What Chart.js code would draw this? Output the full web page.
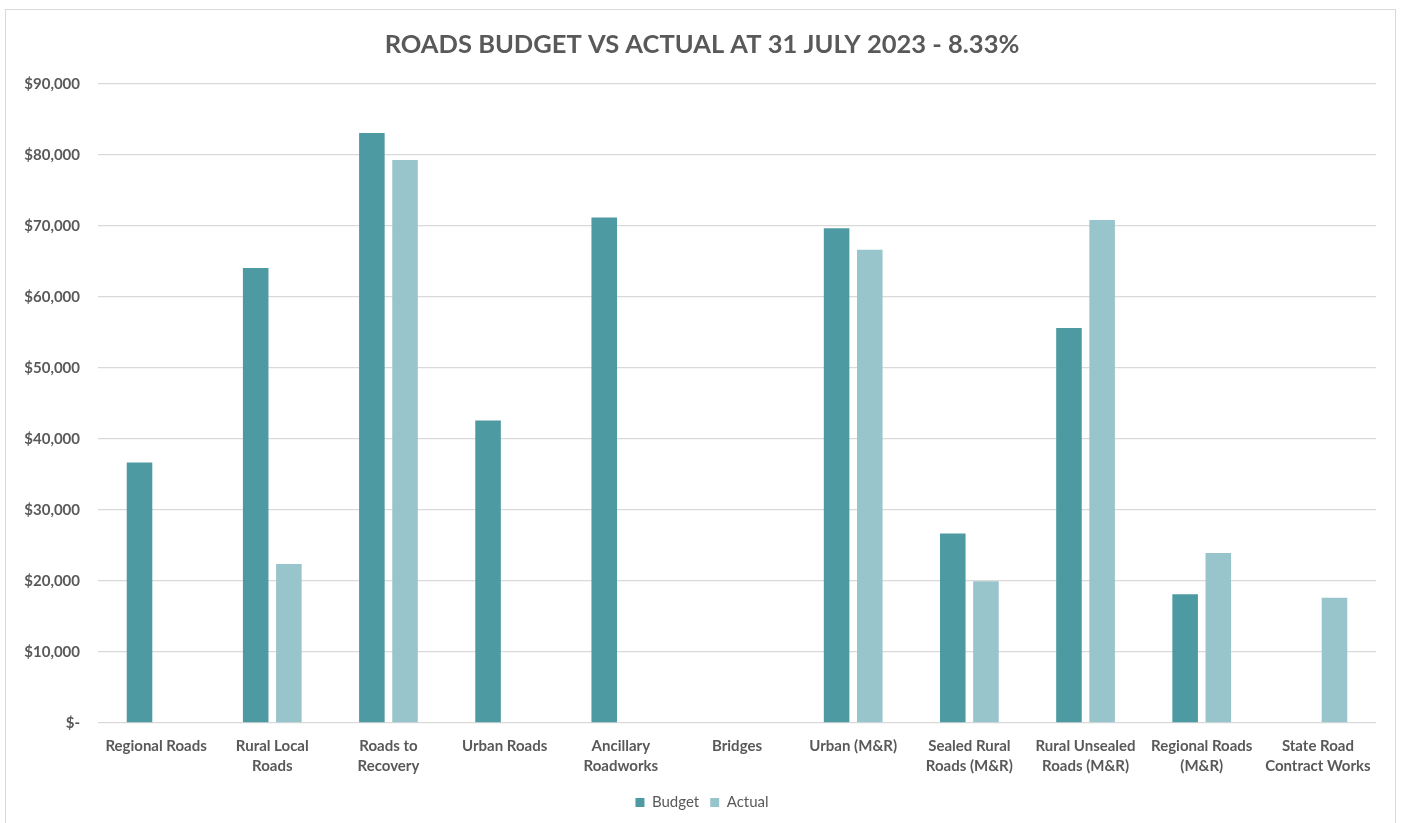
<!DOCTYPE html>
<html>
<head>
<meta charset="utf-8">
<title>Roads Budget vs Actual</title>
<script src="https://cdn.jsdelivr.net/npm/chart.js@4"></script>
<style>
  html, body { margin: 0; padding: 0; background: #ffffff; overflow: hidden; }
  #wrap { position: relative; width: 1404px; height: 823px; }
  #frame {
    position: absolute; left: 5px; top: 9px; width: 1391px; height: 830px;
    box-sizing: border-box; border: 1px solid #d9d9d9; pointer-events: none;
  }
  canvas { position: absolute; left: 0; top: 0; }
</style>
</head>
<body>
<div id="wrap">
  <canvas id="chart" width="1404" height="823"></canvas>
  <div id="frame"></div>
</div>
<script>
// Works programmes shown along the x axis
const categories = [
  'Regional Roads',
  ['Rural Local', 'Roads'],
  ['Roads to', 'Recovery'],
  'Urban Roads',
  ['Ancillary', 'Roadworks'],
  'Bridges',
  'Urban (M&R)',
  ['Sealed Rural', 'Roads (M&R)'],
  ['Rural Unsealed', 'Roads (M&R)'],
  ['Regional Roads', '(M&R)'],
  ['State Road', 'Contract Works']
];

// Year-to-date budget and actual spend ($)
const budget = [36700, 64100, 83100, 42600, 71200, 0, 69700, 26700, 55650, 18150, 0];
const actual = [0, 22400, 79300, 0, 0, 0, 66650, 19950, 70850, 23950, 17650];

// Value axis range
const yMin = 0;
const yMax = 90000;
const yStep = 10000;

const titleText = 'ROADS BUDGET VS ACTUAL AT 31 JULY 2023 - 8.33%';

const textGrey = '#595959';
const budgetColour = '#4e9aa2';
const actualColour = '#98c5cb';

function money(v) {
  if (v === 0) return '$-';
  return '$' + Number(v).toLocaleString('en-US');
}

new Chart(document.getElementById('chart'), {
  type: 'bar',
  data: {
    labels: categories,
    datasets: [
      { label: 'Budget', data: budget, backgroundColor: budgetColour, borderWidth: 0 },
      { label: 'Actual', data: actual, backgroundColor: actualColour, borderWidth: 0 }
    ]
  },
  options: {
    responsive: false,
    animation: false,
    devicePixelRatio: 1,
    categoryPercentage: 0.571,
    barPercentage: 0.771,
    layout: { padding: { left: 0, right: 0, top: 0, bottom: 3 } },
    plugins: {
      title: {
        display: true,
        text: titleText,
        color: textGrey,
        font: { family: 'Lato', size: 25.5, weight: 'bold', lineHeight: 1.2 },
        padding: { top: 29, bottom: 24.4 }
      },
      legend: {
        display: true,
        position: 'bottom',
        labels: {
          color: textGrey,
          font: { family: 'Lato', size: 15 },
          boxWidth: 9,
          boxHeight: 9,
          padding: 11
        }
      },
      tooltip: { enabled: false }
    },
    scales: {
      x: {
        grid: { display: false, drawTicks: false },
        border: { display: false },
        ticks: {
          color: textGrey,
          font: { family: 'Lato', size: 15, weight: 'bold', lineHeight: 1.33 },
          padding: 13,
          maxRotation: 0,
          minRotation: 0,
          autoSkip: false
        },
        afterFit(scale) { scale.height = 61; }
      },
      y: {
        min: yMin,
        max: yMax,
        grid: { color: '#d9d9d9', lineWidth: 1.3, drawTicks: false },
        border: { display: false },
        ticks: {
          stepSize: yStep,
          color: textGrey,
          font: { family: 'Lato', size: 15, weight: 'bold' },
          padding: 18,
          callback: (v) => money(v)
        },
        afterFit(scale) { scale.width = 98; }
      },
      // empty right-hand margin strip so the plot ends short of the frame
      yRight: {
        position: 'right',
        grid: { display: false, drawTicks: false },
        border: { display: false },
        ticks: { display: false },
        afterFit(scale) { scale.width = 28; }
      }
    }
  }
});
</script>
</body>
</html>
